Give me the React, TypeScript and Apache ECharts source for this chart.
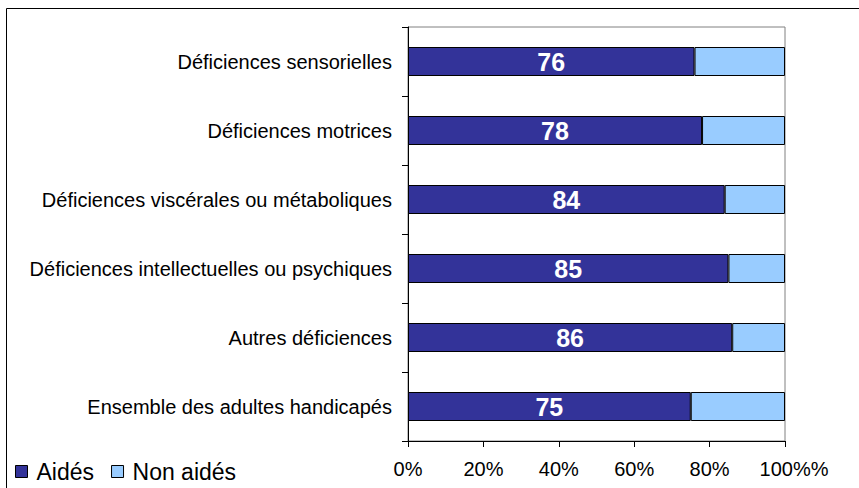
import React, { useEffect, useRef } from "react";
import * as echarts from "echarts";

const categories = [
  "Déficiences sensorielles",
  "Déficiences motrices",
  "Déficiences viscérales ou métaboliques",
  "Déficiences intellectuelles ou psychiques",
  "Autres déficiences",
  "Ensemble des adultes handicapés",
];
const aides = [76, 78, 84, 85, 86, 75];
const nonAides = [24, 22, 16, 15, 14, 25];
const tickLabels: Record<number, string> = { 0: "0%", 20: "20%", 40: "40%", 60: "60%", 80: "80%", 100: "100%%" };

const FONT = "'Liberation Sans', Arial, sans-serif";

export default function App() {
  const ref = useRef<HTMLDivElement>(null);
  useEffect(() => {
    document.body.style.margin = "0";
    const chart = echarts.init(ref.current!, null, { renderer: "svg" });
    chart.setOption({
      animation: false,
      textStyle: { fontFamily: FONT },
      graphic: [
        {
          type: "rect",
          shape: { x: 6.5, y: 8.5, width: 900, height: 600 },
          style: { fill: "none", stroke: "#000", lineWidth: 1 },
          silent: true,
        },
      ],
      legend: {
        left: 10,
        top: 455,
        itemWidth: 12,
        itemHeight: 12,
        itemGap: 17,
        icon: "rect",
        textStyle: { fontSize: 23, color: "#000", fontFamily: FONT, padding: [0, 0, 0, 4] },
        data: [
          { name: "Aidés", itemStyle: { color: "#333399", borderColor: "#000", borderWidth: 1 } },
          { name: "Non aidés", itemStyle: { color: "#99CCFF", borderColor: "#000", borderWidth: 1 } },
        ],
      },
      grid: {
        left: 408,
        right: 74,
        top: 27,
        bottom: 47,
        show: true,
        borderColor: "#808080",
        borderWidth: 1,
        containLabel: false,
      },
      xAxis: {
        type: "value",
        min: 0,
        max: 100,
        interval: 20,
        splitLine: { show: false },
        axisLine: { show: true, lineStyle: { color: "#000", width: 1 } },
        axisTick: { show: true, length: 6, lineStyle: { color: "#000" } },
        axisLabel: {
          margin: 18,
          fontSize: 20,
          color: "#000",
          fontFamily: FONT,
          formatter: (v: number) => (v === 100 ? "{last|" + tickLabels[v] + "}" : tickLabels[v]),
          rich: {
            last: { fontSize: 20, color: "#000", fontFamily: FONT, padding: [0, 0, 0, 18] },
          },
        },
      },
      yAxis: {
        type: "category",
        data: categories,
        inverse: true,
        axisLine: { show: true, lineStyle: { color: "#000", width: 1 } },
        axisTick: { show: true, length: 6, lineStyle: { color: "#000" } },
        axisLabel: { margin: 16, fontSize: 20, color: "#000", fontFamily: FONT },
      },
      series: [
        {
          name: "Aidés",
          type: "bar",
          stack: "total",
          barWidth: 29,
          data: aides,
          itemStyle: { color: "#333399", borderColor: "#000", borderWidth: 1 },
          label: {
            show: true,
            position: "inside",
            color: "#fff",
            fontWeight: "bold",
            fontSize: 25,
            fontFamily: FONT,
          },
        },
        {
          name: "Non aidés",
          type: "bar",
          stack: "total",
          barWidth: 29,
          data: nonAides,
          itemStyle: { color: "#99CCFF", borderColor: "#000", borderWidth: 1 },
        },
      ],
    });
    return () => chart.dispose();
  }, []);
  return <div ref={ref} style={{ position: "absolute", left: 0, top: 0, width: 859, height: 488 }} />;
}
